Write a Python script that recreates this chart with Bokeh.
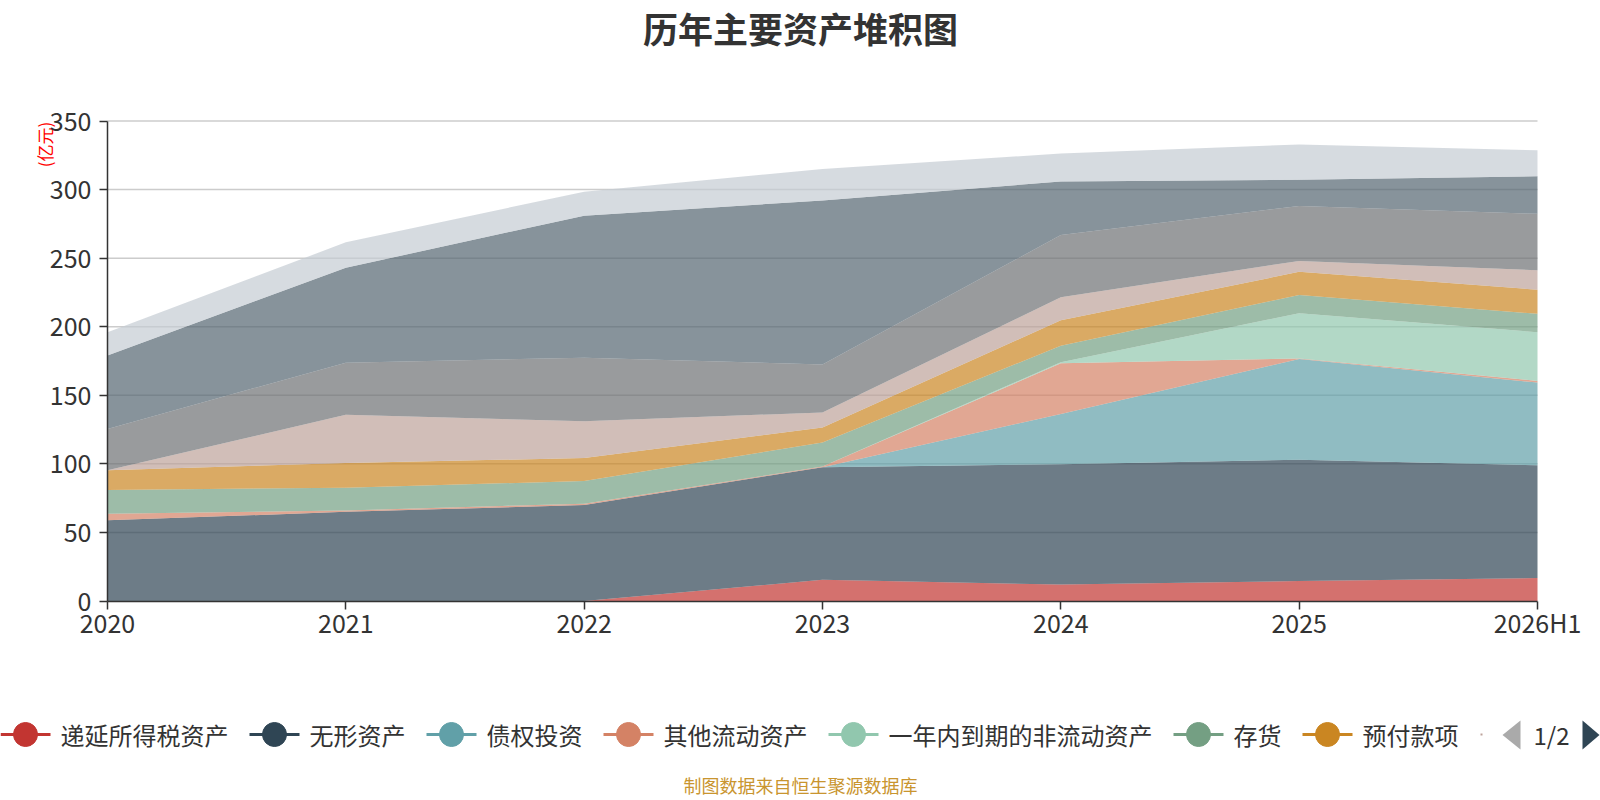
import math
from bokeh.plotting import figure
from bokeh.models import ColumnDataSource, Range1d, FixedTicker
from bokeh.embed import file_html
from bokeh.resources import INLINE
from bokeh.core.properties import value

FONT = "Noto Sans CJK SC"

# ---------------- data (亿元) ----------------
periods = ["2020", "2021", "2022", "2023", "2024", "2025", "2026H1"]

deferred_tax   = [0.0, 0.0, 0.0, 15.5, 12.0, 14.5, 16.7]      # 递延所得税资产
intangible     = [58.8, 65.0, 70.0, 82.0, 87.8, 88.5, 82.3]   # 无形资产
debt_invest    = [0.0, 0.0, 0.0, 0.0, 36.6, 73.4, 60.3]       # 债权投资
other_current  = [4.9, 1.0, 1.0, 0.5, 36.9, 0.5, 1.2]         # 其他流动资产
noncurrent_1y  = [0.0, 0.0, 0.0, 0.0, 0.7, 32.9, 35.5]        # 一年内到期的非流动资产
inventory      = [17.2, 16.6, 16.5, 17.5, 12.2, 13.3, 13.4]   # 存货
prepayments    = [14.4, 18.1, 16.7, 11.0, 18.5, 16.9, 17.6]   # 预付款项
receivables    = [0.0, 35.1, 26.8, 11.0, 16.7, 8.0, 14.2]     # 应收账款
fixed_assets   = [30.2, 38.0, 46.4, 35.0, 45.4, 40.1, 41.1]   # 固定资产
cash           = [53.5, 69.2, 103.6, 119.5, 39.1, 19.1, 27.4] # 货币资金
trading_fin    = [17.0, 18.5, 17.5, 23.0, 20.4, 25.7, 19.0]   # 交易性金融资产

series_names = ["递延所得税资产", "无形资产", "债权投资", "其他流动资产",
                "一年内到期的非流动资产", "存货", "预付款项",
                "应收账款", "固定资产", "货币资金", "交易性金融资产"]
series_values = [deferred_tax, intangible, debt_invest, other_current,
                 noncurrent_1y, inventory, prepayments,
                 receivables, fixed_assets, cash, trading_fin]
colors = ["#c23531", "#2f4554", "#61a0a8", "#d48265", "#91c7ae", "#749f83",
          "#ca8622", "#bda29a", "#6e7074", "#546570", "#c4ccd3"]
y_ticks = [0, 50, 100, 150, 200, 250, 300, 350]

title_text = "历年主要资产堆积图"
unit_text = "(亿元)"
source_text = "制图数据来自恒生聚源数据库"
pager_text = "1/2"
legend_count = 7

# ---------------- page geometry (pixels) ----------------
W, H = 1600, 800
FL, FR, FT, FB = 107.0, 1537.0, 120.5, 600.5   # plotting area edges
Y_MAX = y_ticks[-1]
N = len(periods) - 1

def dx(px):
    return (px - FL) / (FR - FL) * N

def dy(py):
    return (FB - py) / (FB - FT) * Y_MAX

xs = list(range(len(periods)))
data = {"x": xs}
keys = []
for i, vals in enumerate(series_values):
    k = "s%d" % i
    keys.append(k)
    data[k] = vals
src = ColumnDataSource(data)

p = figure(width=W, height=H, x_range=Range1d(dx(0), dx(W)),
           y_range=Range1d(dy(H), dy(0)), output_backend="svg",
           toolbar_location=None, min_border=0)
p.title.visible = False
p.outline_line_color = None
p.background_fill_color = "white"
p.border_fill_color = "white"
p.xgrid.visible = False
p.ygrid.visible = False

# horizontal grid lines (behind the areas)
grid_y = y_ticks[1:]
p.segment(x0=[0] * len(grid_y), x1=[N] * len(grid_y), y0=grid_y, y1=grid_y,
          line_color="#cccccc", line_width=1.5)

# stacked areas
p.varea_stack(stackers=keys, x="x", source=src, fill_color=colors, fill_alpha=0.7)

# axes, pinned to the plotting area
yax = p.yaxis[0]
yax.fixed_location = 0
yax.bounds = (0, Y_MAX)
yax.ticker = FixedTicker(ticks=y_ticks)
yax.axis_line_color = "#333333"
yax.axis_line_width = 1.5
yax.major_tick_line_color = "#333333"
yax.major_tick_line_width = 1.5
yax.major_tick_out = 8
yax.major_tick_in = 0
yax.minor_tick_line_color = None
yax.major_label_text_font = FONT
yax.major_label_text_font_size = "25px"
yax.major_label_text_color = "#333333"
yax.major_label_standoff = 8

xax = p.xaxis[0]
xax.fixed_location = 0
xax.bounds = (0, N)
xax.ticker = FixedTicker(ticks=xs)
xax.major_label_overrides = {i: lab for i, lab in enumerate(periods)}
xax.axis_line_color = "#333333"
xax.axis_line_width = 1.5
xax.major_tick_line_color = "#333333"
xax.major_tick_line_width = 1.5
xax.major_tick_out = 8
xax.major_tick_in = 0
xax.minor_tick_line_color = None
xax.major_label_text_font = FONT
xax.major_label_text_font_size = "25px"
xax.major_label_text_color = "#333333"
xax.major_label_standoff = -5

# title and unit
p.text(x=[dx(800)], y=[dy(27)], text=[title_text], text_align="center",
       text_baseline="middle", text_font=value(FONT), text_font_size="35px",
       text_font_style="bold", text_color="#333333")
p.text(x=[dx(44)], y=[dy(144)], text=[unit_text], angle=math.pi / 2,
       text_align="center", text_baseline="middle", text_font=value(FONT),
       text_font_size="17px", text_color="#ff0000")

# legend (first page)
LY = 734
s = 0.0
seg_x0, seg_x1, seg_c, dot_x, txt_x, txt = [], [], [], [], [], []
for name, c in zip(series_names[:legend_count], colors[:legend_count]):
    seg_x0.append(dx(s))
    seg_x1.append(dx(s + 50))
    seg_c.append(c)
    dot_x.append(dx(s + 25))
    txt_x.append(dx(s + 60))
    txt.append(name)
    s += 81 + 24 * len(name)
ly = [dy(LY)] * legend_count
p.segment(x0=seg_x0, y0=ly, x1=seg_x1, y1=ly, line_color=seg_c, line_width=3)
p.scatter(x=dot_x, y=ly, size=24, fill_color=seg_c, line_color=seg_c)
p.text(x=txt_x, y=ly, text=txt, text_align="left", text_baseline="middle",
       text_font=value(FONT), text_font_size="24px", text_color="#333333")

# clipped start of the next legend page item
p.segment(x0=[dx(s + 1)], y0=[dy(LY)], x1=[dx(s + 3)], y1=[dy(LY)],
          line_color=colors[legend_count], line_width=2)

# pager
p.patches(xs=[[dx(1520), dx(1520), dx(1502)], [dx(1582), dx(1582), dx(1599)]],
          ys=[[dy(720), dy(749), dy(734.5)], [dy(720), dy(749), dy(734.5)]],
          fill_color=["#aaaaaa", "#2f4554"], line_color=None)
p.text(x=[dx(1533)], y=[dy(LY)], text=[pager_text], text_align="left",
       text_baseline="middle", text_font=value(FONT), text_font_size="24px",
       text_color="#333333")

# footer
p.text(x=[dx(800)], y=[dy(784)], text=[source_text], text_align="center",
       text_baseline="middle", text_font=value(FONT), text_font_size="18px",
       text_color="#c9952f")

open("out.html", "w").write(file_html(p, INLINE))
